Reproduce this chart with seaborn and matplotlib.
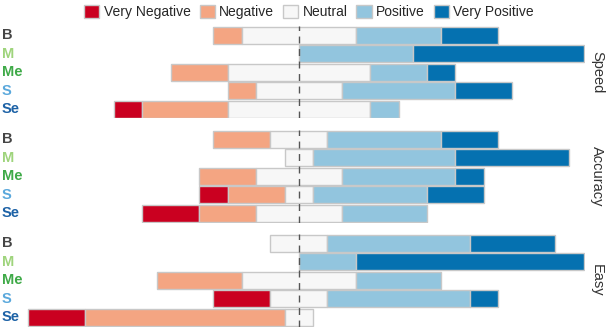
import matplotlib
matplotlib.use("Agg")

import matplotlib.pyplot as plt
import matplotlib.transforms as mtransforms
from matplotlib.patches import Patch
import seaborn as sns

# Likert responses, counts out of 10 participants
groups = ["B", "M", "Me", "S", "Se"]
group_colors = ["#454545", "#9fd47c", "#3faa48", "#5aa8dc", "#1d62a6"]
levels = ["Very Negative", "Negative", "Neutral", "Positive", "Very Positive"]
level_colors = ["#ca0020", "#f4a582", "#f7f7f7", "#92c5de", "#0571b0"]
facets = ["Speed", "Accuracy", "Easy"]

speed = [[0, 1, 4, 3, 2],
         [0, 0, 0, 4, 6],
         [0, 2, 5, 2, 1],
         [0, 1, 3, 4, 2],
         [1, 3, 5, 1, 0]]
accuracy = [[0, 2, 2, 4, 2],
            [0, 0, 1, 5, 4],
            [0, 2, 3, 4, 1],
            [1, 2, 1, 4, 2],
            [2, 2, 3, 3, 0]]
easy = [[0, 0, 2, 5, 3],
        [0, 0, 0, 2, 8],
        [0, 3, 4, 3, 0],
        [2, 0, 2, 5, 1],
        [2, 7, 1, 0, 0]]
facet_data = [speed, accuracy, easy]

sns.set_theme(style="white")
plt.rcParams["font.family"] = ["Liberation Sans", "DejaVu Sans"]

fig = plt.figure(figsize=(6.13, 3.27), dpi=100)
W, H = 613, 327
panels = [(26, 118.5), (130, 222.5), (234, 326.5)]
x0, x1 = 27 / W, 585 / W

for (top, bottom), name, data in zip(panels, facets, facet_data):
    ax = fig.add_axes([x0, 1 - bottom / H, x1 - x0, (bottom - top) / H])
    for i, counts in enumerate(data):
        # centre the neutral block on zero
        left = -(counts[0] + counts[1] + counts[2] / 2)
        for k, c in enumerate(counts):
            if c > 0:
                ax.barh(i, c, left=left, height=0.9, color=level_colors[k],
                        edgecolor="#c8c8c8", linewidth=1.0)
            left += c
    ax.axvline(0, color="#555555", lw=1.0, dashes=(5, 4), zorder=5)
    ax.set_xlim(-9.55, 10.05)
    ax.set_ylim(len(groups) - 0.5, -0.5)
    ax.set_xticks([])
    ax.set_yticks([])
    sns.despine(ax=ax, left=True, bottom=True)

    trans = mtransforms.blended_transform_factory(fig.transFigure, ax.transData)
    for i, (g, gc) in enumerate(zip(groups, group_colors)):
        ax.text(2 / W, i, g, transform=trans, ha="left", va="center",
                fontsize=10.5, fontweight="bold", color=gc)
    ax.text(597 / W, (len(groups) - 1) / 2, name, transform=trans, rotation=-90,
            ha="center", va="center", fontsize=10.5, color="#333333")

handles = [Patch(facecolor=c, edgecolor="#c8c8c8", label=l)
           for c, l in zip(level_colors, levels)]
fig.legend(handles=handles, loc="center", bbox_to_anchor=(309 / W, 1 - 12 / H),
           ncol=5, frameon=False, fontsize=10, handlelength=1.1, handleheight=1.1,
           handletextpad=0.3, columnspacing=0.65, borderpad=0.1)

fig.savefig("out.png", dpi=100)
